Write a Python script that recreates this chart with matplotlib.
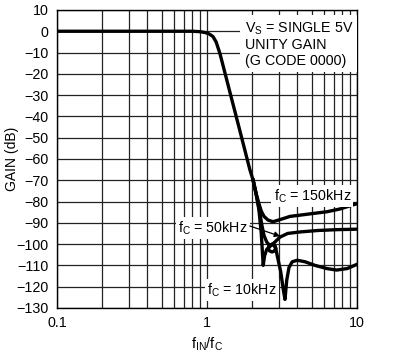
import matplotlib
matplotlib.use("Agg")
import matplotlib.pyplot as plt
from matplotlib.ticker import FixedLocator, NullFormatter

plt.rcParams['font.family'] = ['Liberation Sans', 'DejaVu Sans']
plt.rcParams['mathtext.fontset'] = 'custom'
plt.rcParams['mathtext.rm'] = 'Liberation Sans'
plt.rcParams['mathtext.it'] = 'Liberation Sans:italic'
plt.rcParams['axes.unicode_minus'] = True

# shared passband / roll-off (f_IN/f_C, dB)
f_main = [0.1, 0.5, 0.8, 0.9, 0.97, 1.03, 1.096, 1.15, 1.22, 1.42, 1.66, 1.93, 2.03]
g_main = [0.0, 0.0, 0.0, -0.2, -0.6, -1.2, -2.5, -5.0, -10.5, -28.5, -47.0, -65.0, -70.0]

# f_C = 150kHz
f_150 = [2.03, 2.12, 2.22, 2.30, 2.40, 2.55, 2.75, 3.07, 3.57, 4.17, 5.25, 6.31, 7.7, 10.0]
g_150 = [-70.0, -76.0, -81.0, -84.5, -87.0, -88.7, -89.5, -88.5, -87.0, -86.4, -85.5, -84.8, -83.5, -81.0]

# f_C = 50kHz
f_50 = [2.03, 2.12, 2.22, 2.30, 2.37, 2.42, 2.50, 2.59, 2.70, 2.84, 3.07, 3.45, 4.17, 5.5, 7.5, 10.0]
g_50 = [-70.0, -76.0, -84.0, -95.0, -110.0, -105.5, -102.5, -101.5, -100.4, -99.0, -96.7, -95.0, -94.3, -93.6, -93.2, -93.0]

# f_C = 10kHz
f_10 = [2.03, 2.12, 2.22, 2.32, 2.40, 2.50, 2.61, 2.713, 2.82, 2.87, 2.82, 2.713, 2.61, 2.56, 2.61,
        2.713, 2.82, 2.87, 2.95, 3.10, 3.22, 3.31, 3.40, 3.52, 3.70, 4.0, 4.5, 5.25, 6.3, 7.3, 8.6, 10.0]
g_10 = [-70.0, -76.0, -83.0, -91.0, -96.0, -99.0, -100.6, -100.1, -100.6, -101.9, -103.2, -103.7, -103.2,
        -101.9, -100.6, -100.1, -100.6, -101.9, -106.0, -113.0, -121.0, -126.0, -117.0, -111.0, -108.3,
        -107.6, -108.3, -110.0, -111.5, -112.2, -111.5, -109.5]

y_ticks = [10, 0, -10, -20, -30, -40, -50, -60, -70, -80, -90, -100, -110, -120, -130]
x_major = [0.1, 1, 10]
x_labels = ['0.1', '1', '10']
x_minor = [0.2, 0.3, 0.4, 0.5, 0.6, 0.7, 0.8, 0.9, 2, 3, 4, 5, 6, 7, 8, 9]

fig = plt.figure(figsize=(3.96, 3.56), dpi=100)
ax = fig.add_axes([0.144, 0.135, 0.7575, 0.837])

ax.set_xscale('log')
ax.set_xlim(0.1, 10)
ax.set_ylim(-130, 10)

ax.xaxis.set_major_locator(FixedLocator(x_major))
ax.set_xticklabels(x_labels)
ax.xaxis.set_minor_locator(FixedLocator(x_minor))
ax.xaxis.set_minor_formatter(NullFormatter())
ax.set_yticks(y_ticks)
ax.grid(True, which='both', color='#222222', linewidth=0.9)
ax.tick_params(which='both', length=0, labelsize=10.3, pad=6, colors='black')
for s in ax.spines.values():
    s.set_linewidth(1.0)
    s.set_color('black')
ax.set_axisbelow(True)

lw = 2.4
ax.plot(f_main, g_main, color='black', lw=lw, solid_capstyle='butt', zorder=3)
ax.plot(f_150, g_150, color='black', lw=lw, zorder=3)
ax.plot(f_50, g_50, color='black', lw=lw, zorder=3)
ax.plot(f_10, g_10, color='black', lw=lw, zorder=3)

ax.set_xlabel(r'f$_{\mathrm{IN}}$/f$_{\mathrm{C}}$', fontsize=10.5, labelpad=4)
ax.set_ylabel('GAIN (dB)', fontsize=10)
ax.yaxis.set_label_coords(-0.128, 0.5)

box = dict(facecolor='white', edgecolor='none', pad=1.5)
ax.text(1.78, 5.0, 'V$_{\\mathrm{S}}$ = SINGLE 5V\nUNITY GAIN\n(G CODE 0000)',
        fontsize=10.3, va='top', ha='left', linespacing=1.12, bbox=dict(facecolor='white', edgecolor='none', pad=3), zorder=4)
ax.text(2.78, -77.5, 'f$_{\\mathrm{C}}$ = 150kHz', fontsize=10.3, va='center', ha='left', bbox=box, zorder=4)
ax.text(1.88, -92.5, 'f$_{\\mathrm{C}}$ = 50kHz', fontsize=10.3, va='center', ha='right', bbox=box, zorder=4)
ax.text(1.0, -121.5, 'f$_{\\mathrm{C}}$ = 10kHz', fontsize=10.3, va='center', ha='left', bbox=box, zorder=4)

ax.annotate('', xy=(3.07, -96.3), xytext=(1.93, -91.5),
            arrowprops=dict(arrowstyle='-|>', color='black', lw=0.9, mutation_scale=8, shrinkA=0, shrinkB=0),
            zorder=5)

fig.savefig('out.png', dpi=100)
